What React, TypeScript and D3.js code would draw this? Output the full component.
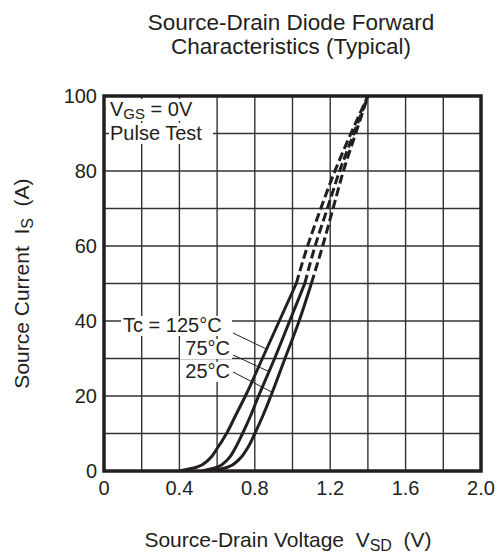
import React from 'react';
import * as d3 from 'd3';

// axis ticks
const xTicks = [0, 0.4, 0.8, 1.2, 1.6, 2.0];
const yTicks = [0, 20, 40, 60, 80, 100];
const xGrid = [0.2, 0.4, 0.6, 0.8, 1.0, 1.2, 1.4, 1.6, 1.8];
const yGrid = [10, 20, 30, 40, 50, 60, 70, 80, 90];

// solid part: current (A) -> voltage (V)
const currentSolid = [0, 1, 3, 6, 10, 15, 20, 30, 40, 50];
const v125Solid = [0.40, 0.49, 0.555, 0.60, 0.65, 0.70, 0.75, 0.84, 0.93, 1.02];
const v75Solid = [0.52, 0.60, 0.655, 0.695, 0.735, 0.78, 0.82, 0.905, 0.985, 1.065];
const v25Solid = [0.57, 0.655, 0.715, 0.76, 0.80, 0.845, 0.885, 0.96, 1.035, 1.10];

// dashed extrapolation
const currentDashed = [50, 60, 70, 80, 90, 100];
const v125Dashed = [1.02, 1.08, 1.15, 1.225, 1.31, 1.40];
const v75Dashed = [1.065, 1.12, 1.185, 1.25, 1.325, 1.40];
const v25Dashed = [1.10, 1.16, 1.215, 1.27, 1.335, 1.40];

const W = 503;
const H = 556;
const margin = { left: 104, right: 22, top: 96, bottom: 85 };
const FONT = '"Liberation Sans", Arial, Helvetica, sans-serif';
const INK = '#231f20';
const SP = '\u00a0';

const App = () => {
  const x = d3.scaleLinear().domain([0, 2]).range([margin.left, W - margin.right]);
  const y = d3.scaleLinear().domain([0, 100]).range([H - margin.bottom, margin.top]);

  const line = d3.line<[number, number]>()
    .x(d => x(d[0]))
    .y(d => y(d[1]))
    .curve(d3.curveMonotoneY);

  const pts = (vs: number[], is: number[]) => vs.map((v, i) => [v, is[i]] as [number, number]);

  const solid = [v125Solid, v75Solid, v25Solid].map(v => line(pts(v, currentSolid)));
  const dashed = [v125Dashed, v75Dashed, v25Dashed].map(v => line(pts(v, currentDashed)));

  // leader line targets on each curve (current value)
  const leaderI = [32.5, 26.5, 21];
  const leaderV = [v125Solid, v75Solid, v25Solid].map((v, k) =>
    d3.scaleLinear().domain(currentSolid).range(v)(leaderI[k]));

  const x0 = x(0), x1 = x(2), yT = y(100), yB = y(0);

  return (
    <svg width={W} height={H} style={{ position: 'absolute', left: 0, top: 0, background: '#fff' }}
      fontFamily={FONT}>
      <rect width={W} height={H} fill="#fff" />
      {/* title */}
      <text x={291} y={30} textAnchor="middle" fontSize={22.5} fill={INK}>Source-Drain Diode Forward</text>
      <text x={291} y={54} textAnchor="middle" fontSize={22.5} fill={INK}>Characteristics (Typical)</text>

      {/* grid */}
      {xGrid.map(v => (
        <line key={'gx' + v} x1={x(v)} x2={x(v)} y1={yT} y2={yB} stroke="#333" strokeWidth={1.4} />
      ))}
      {yGrid.map(v => (
        <line key={'gy' + v} x1={x0} x2={x1} y1={y(v)} y2={y(v)} stroke="#333" strokeWidth={1.4} />
      ))}

      {/* curves */}
      {solid.map((d, i) => (
        <path key={'s' + i} d={d || ''} fill="none" stroke={INK} strokeWidth={3} />
      ))}
      {dashed.map((d, i) => (
        <path key={'d' + i} d={d || ''} fill="none" stroke={INK} strokeWidth={3} strokeDasharray="9 4" />
      ))}

      {/* frame */}
      <rect x={x0} y={yT} width={x1 - x0} height={yB - yT} fill="none" stroke={INK} strokeWidth={3.5} />

      {/* in-plot labels with white background */}
      <rect x={108} y={99} width={98} height={22} fill="#fff" />
      <text x={110} y={116} fontSize={20} fill={INK}>
        V<tspan fontSize={15} dy={3}>GS</tspan><tspan dy={-3}>{SP}= 0V</tspan>
      </text>
      <rect x={109} y={123} width={104} height={21} fill="#fff" />
      <text x={110} y={140} fontSize={20} fill={INK}>Pulse Test</text>

      <rect x={121} y={316} width={111} height={20} fill="#fff" />
      <text x={123} y={332} fontSize={20} fill={INK}>Tc = 125°C</text>
      <rect x={180} y={339} width={52} height={20} fill="#fff" />
      <text x={230} y={355} textAnchor="end" fontSize={20} fill={INK}>75°C</text>
      <rect x={180} y={362} width={52} height={20} fill="#fff" />
      <text x={230} y={378} textAnchor="end" fontSize={20} fill={INK}>25°C</text>

      {/* leader lines */}
      {[333, 355, 372].map((sy, k) => (
        <line key={'ld' + k} x1={233} y1={sy} x2={x(leaderV[k])} y2={y(leaderI[k])}
          stroke={INK} strokeWidth={1} />
      ))}

      {/* tick labels */}
      {yTicks.map(v => (
        <text key={'yt' + v} x={97} y={y(v) + 7} textAnchor="end" fontSize={20} fill={INK}>{v}</text>
      ))}
      {xTicks.map(v => (
        <text key={'xt' + v} x={x(v)} y={495} textAnchor="middle" fontSize={20} fill={INK}>
          {v === 0 ? '0' : v.toFixed(1)}
        </text>
      ))}

      {/* axis titles */}
      <text x={288} y={547} textAnchor="middle" fontSize={21} fill={INK}>
        {`Source-Drain Voltage${SP}${SP}V`}<tspan fontSize={16} dy={4}>SD</tspan><tspan dy={-4}>{`${SP}${SP}(V)`}</tspan>
      </text>
      <text transform={`translate(29, ${(yT + yB) / 2}) rotate(-90)`} textAnchor="middle" fontSize={21} fill={INK}>
        {`Source Current${SP}${SP}I`}<tspan fontSize={16} dy={4}>S</tspan><tspan dy={-4}>{`${SP}${SP}(A)`}</tspan>
      </text>
    </svg>
  );
};

export default App;
